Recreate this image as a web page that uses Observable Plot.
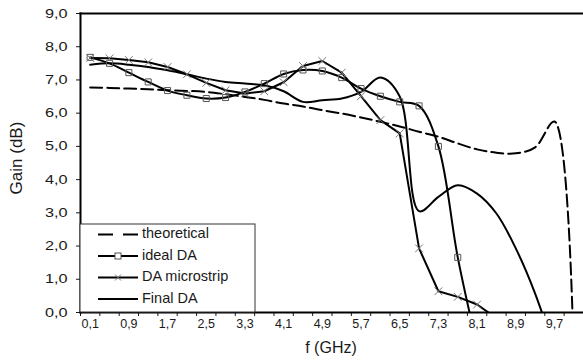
<!DOCTYPE html>
<html><head><meta charset="utf-8">
<script src="https://cdn.jsdelivr.net/npm/d3@7"></script>
<script src="https://cdn.jsdelivr.net/npm/@observablehq/plot@0.6"></script>
<style>body{margin:0;background:#fff} svg{display:block}</style>
</head><body><div id="chart"></div>
<script>
// Frequencies (GHz), one category every 0.4 GHz
const freq = [0.1,0.5,0.9,1.3,1.7,2.1,2.5,2.9,3.3,3.7,4.1,4.5,4.9,5.3,5.7,6.1,6.5,6.9,7.3,7.7,8.1,8.5,8.9,9.3,9.7,10.1];
// Series values (dB)
const theoretical = [6.77,6.76,6.74,6.72,6.69,6.67,6.64,6.57,6.49,6.40,6.29,6.20,6.09,5.99,5.87,5.74,5.60,5.44,5.29,5.09,4.91,4.81,4.79,4.97,5.75,-1.5];
const idealDA = [7.68,7.50,7.22,6.94,6.68,6.54,6.44,6.47,6.64,6.89,7.18,7.30,7.27,7.07,6.74,6.51,6.34,6.22,5.00,1.66,-1.0];
const daMicrostrip = [7.66,7.65,7.60,7.53,7.39,7.17,6.91,6.69,6.59,6.66,6.93,7.42,7.57,7.22,6.51,5.79,5.39,1.93,0.64,0.47,0.24,-0.17];
const finalDA = [7.46,7.50,7.46,7.39,7.29,7.17,7.04,6.94,6.89,6.84,6.66,6.34,6.39,6.44,6.64,7.07,6.50,3.05,3.48,3.83,3.58,2.98,1.93,0.57,-1.15];
// Axis ticks
const xTickBounds = d3.range(0, 27).map(i => -0.1 + 0.4 * i);
const xLabels = [0.1,0.9,1.7,2.5,3.3,4.1,4.9,5.7,6.5,7.3,8.1,8.9,9.7];
const yTicks = [0,1,2,3,4,5,6,7,8,9];
const legendNames = ["theoretical","ideal DA","DA microstrip","Final DA"];

const fmt = d => d.toFixed(1).replace(".", ",");
const rows = vals => vals.map((g, i) => ({f: freq[i], g}));

const chart = Plot.plot({
  width: 583, height: 362,
  marginLeft: 80, marginRight: 0, marginTop: 13, marginBottom: 50,
  style: {fontFamily: "'Liberation Sans', Arial, sans-serif", color: "#1a1a1a", background: "#fff", overflow: "visible"},
  x: {domain: [-0.1, 10.3]},
  y: {domain: [0, 9]},
  marks: [
    Plot.axisX(xTickBounds, {tickSize: 4, tickFormat: () => "", label: null, strokeWidth: 1}),
    Plot.axisX(xLabels, {tickSize: 0, tickPadding: 7, tickFormat: fmt, fontSize: 12.5, label: null}),
    Plot.axisY(yTicks, {tickSize: 4, tickPadding: 9, tickFormat: fmt, fontSize: 12.5, label: null, strokeWidth: 1}),
    Plot.lineY(rows(theoretical), {x: "f", y: "g", curve: "catmull-rom", stroke: "#000", strokeWidth: 2, strokeDasharray: "12,5", clip: true}),
    Plot.lineY(rows(idealDA), {x: "f", y: "g", curve: "catmull-rom", stroke: "#000", strokeWidth: 2, clip: true}),
    Plot.lineY(rows(daMicrostrip), {x: "f", y: "g", curve: "linear", stroke: "#000", strokeWidth: 2, clip: true}),
    Plot.lineY(rows(finalDA), {x: "f", y: "g", curve: "catmull-rom", stroke: "#000", strokeWidth: 2, clip: true}),
    Plot.dot(rows(idealDA), {x: "f", y: "g", symbol: "square", r: 3.4, stroke: "#555", fill: "none", strokeWidth: 1, clip: true}),
    Plot.dot(rows(daMicrostrip), {x: "f", y: "g", symbol: "times", r: 3.6, stroke: "#777", strokeWidth: 1, clip: true}),
    Plot.frame({anchor: "top", stroke: "#000", strokeWidth: 2}),
    Plot.frame({anchor: "left", stroke: "#000", strokeWidth: 2}),
    Plot.frame({anchor: "bottom", stroke: "#000", strokeWidth: 2})
  ]
});
document.getElementById("chart").appendChild(chart);

const svg = d3.select(chart);
// widen y tick labels like the reference
svg.selectAll('g[aria-label="y-axis tick label"] text').each(function() {
  const w = this.getComputedTextLength();
  if (w > 0) { this.setAttribute("textLength", w * 1.3); this.setAttribute("lengthAdjust", "spacingAndGlyphs"); }
});

// Axis titles
svg.append("text").attr("transform", "translate(18,158) rotate(-90)")
  .attr("text-anchor", "middle").attr("dominant-baseline", "middle")
  .attr("font-size", 17).attr("fill", "#1a1a1a").text("Gain (dB)");
svg.append("text").attr("x", 331).attr("y", 349)
  .attr("text-anchor", "middle").attr("dominant-baseline", "middle")
  .attr("font-size", 16).attr("fill", "#1a1a1a").text("f (GHz)");

// Legend
const lg = svg.append("g");
lg.append("rect").attr("x", 80).attr("y", 224).attr("width", 175).attr("height", 88)
  .attr("fill", "#fff").attr("stroke", "#333").attr("stroke-width", 1);
legendNames.forEach((name, i) => {
  const y = 234.5 + i * 21.5;
  lg.append("line").attr("x1", 98).attr("x2", 138).attr("y1", y).attr("y2", y)
    .attr("stroke", "#000").attr("stroke-width", 2)
    .attr("stroke-dasharray", i === 0 ? "15,10" : null);
  if (i === 1) lg.append("rect").attr("x", 115).attr("y", y - 3).attr("width", 6).attr("height", 6)
    .attr("fill", "#fff").attr("stroke", "#555").attr("stroke-width", 1);
  if (i === 2) lg.append("path").attr("d", `M115,${y-3}L121,${y+3}M115,${y+3}L121,${y-3}`)
    .attr("stroke", "#777").attr("stroke-width", 1);
  lg.append("text").attr("x", 142).attr("y", y).attr("text-anchor", "start").attr("dominant-baseline", "middle")
    .attr("font-size", 14.5).attr("fill", "#1a1a1a").text(name);
});
</script></body></html>
